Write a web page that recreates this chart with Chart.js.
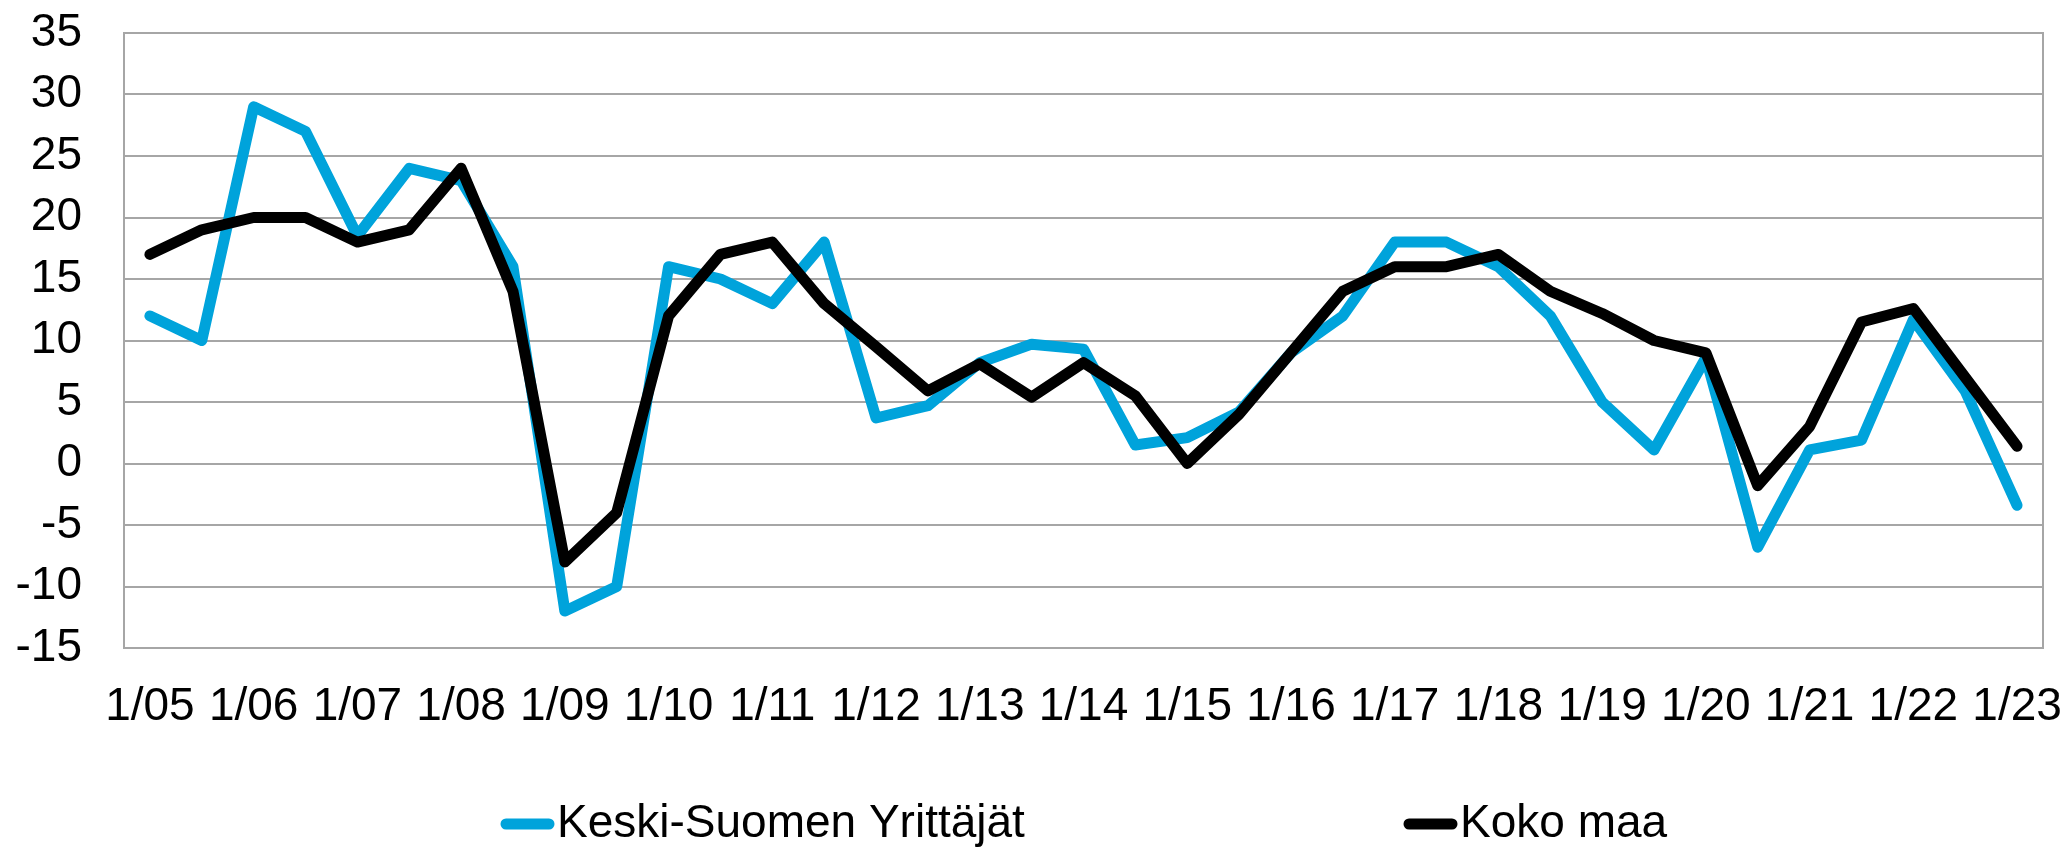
<!DOCTYPE html>
<html>
<head>
<meta charset="utf-8">
<title>Keski-Suomen Yrittäjät vs Koko maa</title>
<script src="https://cdn.jsdelivr.net/npm/chart.js@4.4.1/dist/chart.umd.min.js"></script>
<style>
    html, body { margin: 0; padding: 0; background: #ffffff; }
    canvas { display: block; }
</style>
</head>
<body>
<canvas id="saldoChart" width="2067" height="847"></canvas>
<script>
// Survey periods, twice a year (only January is labelled on the axis)
const periods = [
    '1/05', '7/05', '1/06', '7/06', '1/07', '7/07', '1/08', '7/08', '1/09', '7/09',
    '1/10', '7/10', '1/11', '7/11', '1/12', '7/12', '1/13', '7/13', '1/14', '7/14',
    '1/15', '7/15', '1/16', '7/16', '1/17', '7/17', '1/18', '7/18', '1/19', '7/19',
    '1/20', '7/20', '1/21', '7/21', '1/22', '7/22', '1/23'
];

// Series values
const keskiSuomi = [
    12, 10, 29, 27, 18.5, 24, 23, 16, -12, -10,
    16, 15, 13, 18, 3.7, 4.7, 8.2, 9.7, 9.3, 1.5,
    2.1, 4.2, 9, 12, 18, 18, 16, 12, 5, 1.1,
    8.6, -6.8, 1.1, 1.9, 11.7, 5.9, -3.4
];
const kokoMaa = [
    17, 19, 20, 20, 18, 19, 24, 14, -8, -4,
    12, 17, 18, 13, 9.5, 5.9, 8.1, 5.4, 8.2, 5.5,
    0, 4, 9, 14, 16, 16, 17, 14, 12.2, 10,
    9, -1.8, 3, 11.5, 12.6, 7, 1.4
];

const seriesNames = ['Keski-Suomen Yrittäjät', 'Koko maa'];

// Y axis tick range
const yMin = -15;
const yMax = 35;
const yStep = 5;

Chart.defaults.font.family = "'Liberation Sans', Arial, sans-serif";
Chart.defaults.color = '#000000';

// Grey frame round the plot area
const plotFrame = {
    id: 'plotFrame',
    beforeDatasetsDraw(chart) {
        const a = chart.chartArea;
        const ctx = chart.ctx;
        ctx.save();
        ctx.strokeStyle = '#a6a6a6';
        ctx.lineWidth = 2;
        ctx.strokeRect(a.left, a.top, a.right - a.left, a.bottom - a.top);
        ctx.restore();
    }
};

// Legend row at the bottom, items spread wide like in the original
const legendRow = {
    id: 'legendRow',
    afterDraw(chart) {
        const ctx = chart.ctx;
        const a = chart.chartArea;
        const starts = [a.left + 377, a.left + 1280];
        const y = 824;
        ctx.save();
        ctx.font = "46px 'Liberation Sans', Arial, sans-serif";
        ctx.textBaseline = 'middle';
        chart.data.datasets.forEach((ds, i) => {
            const x = starts[i];
            ctx.strokeStyle = ds.borderColor;
            ctx.lineWidth = 11;
            ctx.lineCap = 'round';
            ctx.beginPath();
            ctx.moveTo(x + 5, y);
            ctx.lineTo(x + 48, y);
            ctx.stroke();
            ctx.fillStyle = '#000000';
            ctx.fillText(ds.label, x + 56, y);
        });
        ctx.restore();
    }
};

const ctx = document.getElementById('saldoChart').getContext('2d');
const saldoChart = new Chart(ctx, {
    type: 'line',
    data: {
        labels: periods,
        datasets: [
            {
                label: seriesNames[0],
                data: keskiSuomi,
                borderColor: '#00a3db',
                backgroundColor: '#00a3db',
                borderWidth: 11,
                borderJoinStyle: 'round',
                borderCapStyle: 'round',
                pointRadius: 0,
                tension: 0,
                order: 1
            },
            {
                label: seriesNames[1],
                data: kokoMaa,
                borderColor: '#000000',
                backgroundColor: '#000000',
                borderWidth: 11,
                borderJoinStyle: 'round',
                borderCapStyle: 'round',
                pointRadius: 0,
                tension: 0,
                order: 0
            }
        ]
    },
    options: {
        responsive: false,
        animation: false,
        devicePixelRatio: 1,
        layout: {
            padding: { top: 33, right: 24, bottom: 0, left: 0 }
        },
        plugins: {
            legend: { display: false },
            tooltip: { enabled: false }
        },
        scales: {
            x: {
                offset: true,
                grid: { display: false },
                border: { display: false },
                ticks: {
                    autoSkip: false,
                    maxRotation: 0,
                    minRotation: 0,
                    padding: 24,
                    font: { size: 46 },
                    color: '#000000',
                    callback: function(value, index) {
                        const label = this.getLabelForValue(value);
                        return label.startsWith('1/') ? label : '';
                    }
                },
                afterFit: function(scale) {
                    scale.height = 199;
                    scale.paddingLeft = 0;
                    scale.paddingRight = 0;
                }
            },
            y: {
                min: yMin,
                max: yMax,
                grid: {
                    color: '#a6a6a6',
                    lineWidth: 2,
                    drawTicks: false
                },
                border: { display: false },
                ticks: {
                    stepSize: yStep,
                    padding: 42,
                    font: { size: 46 },
                    color: '#000000'
                },
                afterFit: function(scale) {
                    scale.width = 124;
                    scale.paddingTop = 0;
                    scale.paddingBottom = 0;
                }
            }
        }
    },
    plugins: [plotFrame, legendRow]
});
</script>
</body>
</html>
